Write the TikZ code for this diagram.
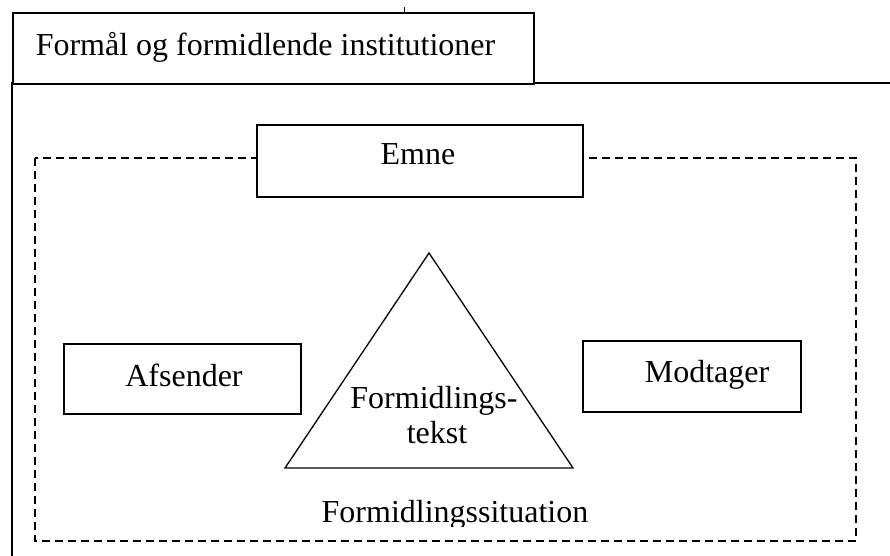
\documentclass[tikz,border=0pt]{standalone}
\usepackage{fontspec}
\setmainfont{Liberation Serif}
\usetikzlibrary{positioning}

\tikzset{
  box/.style={draw, fill=white, inner sep=0pt, anchor=north west},
  txt/.style={inner sep=0pt, anchor=base},
  situation/.style={dash pattern=on 8pt off 5pt}
}

\begin{document}
\begin{tikzpicture}[x=1pt, y=-1pt, line width=1.5pt,
    font=\fontsize{32}{35}\selectfont]
  \useasboundingbox (0,0) rectangle (890,555);
  \clip (0,0) rectangle (890,555);

  % yderste ramme og fane
  \coordinate (ydre-nv) at (12,83);
  \coordinate (ydre-no) at (900,83);
  \coordinate (ydre-sv) at (12,565);
  \draw (ydre-sv) -- (ydre-nv) -- (ydre-no);
  \node[box, minimum width=521pt, minimum height=71pt] (fane) at (12,12) {};
  \node[txt, anchor=base west] (formaal) at (35,55) {Formål og formidlende institutioner};
  \coordinate (prik-a) at (404,7);
  \coordinate (prik-b) at (404,12);
  \draw[line width=1pt] (prik-a) -- (prik-b);

  % formidlingssituationen
  \coordinate (sit-nv) at (35,158);
  \coordinate (sit-so) at (856,541);
  \draw[situation] (sit-nv) rectangle (sit-so);
  \begin{scope}
    \clip (300,490) rectangle (610,526);
    \node[txt] (situation) at (455,522) {Formidlingssituation};
  \end{scope}

  % emne, afsender og modtager
  \node[box, minimum width=326pt, minimum height=72pt] (emne) at (256,124) {};
  \node[txt] (emne-tekst) at (418,164) {Emne};
  \node[box, minimum width=237pt, minimum height=70pt] (afsender) at (63,343) {};
  \node[txt] (afsender-tekst) at (184,386) {Afsender};
  \node[box, minimum width=218pt, minimum height=71pt] (modtager) at (582,340) {};
  \node[txt] (modtager-tekst) at (707,382) {Modtager};

  % trekanten
  \coordinate (top) at (429,253);
  \coordinate (venstre) at (285,468);
  \coordinate (hoejre) at (573,468);
  \draw[line width=1.3pt] (top) -- (venstre) -- (hoejre) -- cycle;
  \node[txt] (tekst-a) at (434,408) {Formidlings-};
  \node[txt] (tekst-b) at (437,443) {tekst};
\end{tikzpicture}
\end{document}
